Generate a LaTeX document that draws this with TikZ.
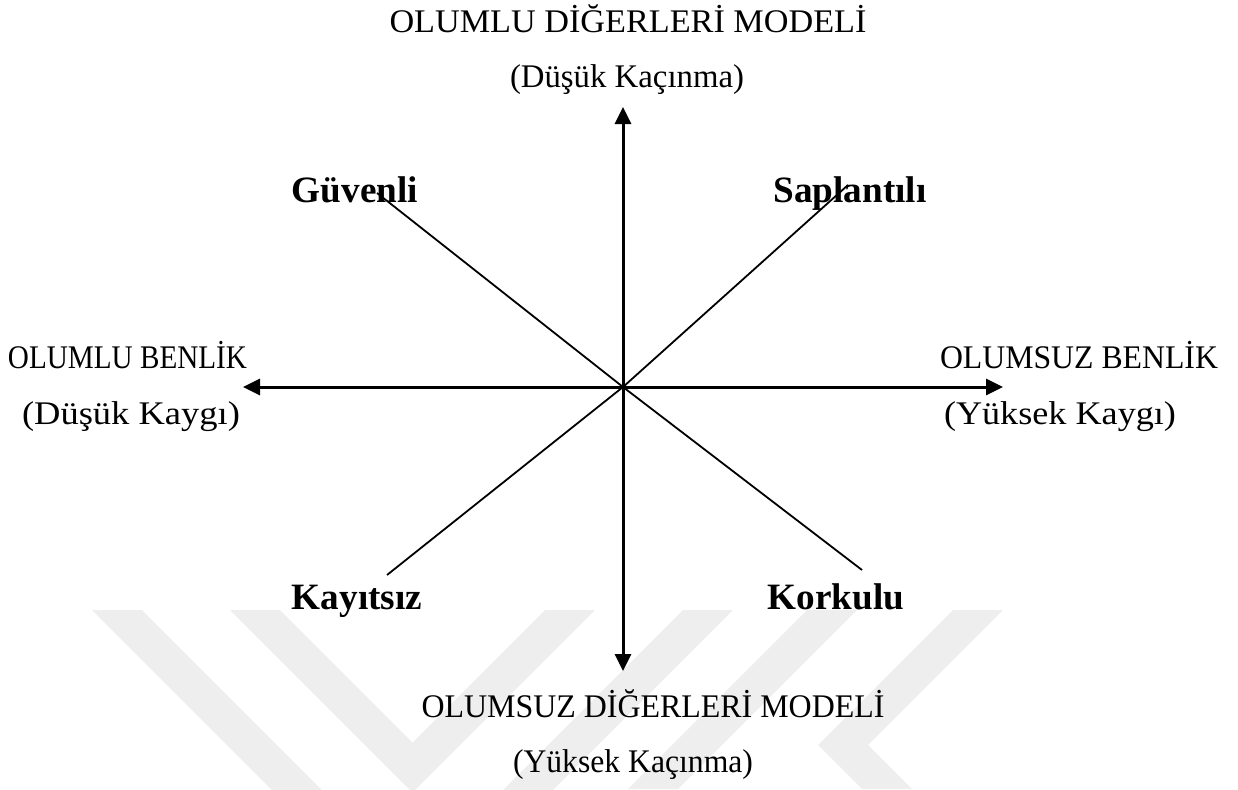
\documentclass[tikz,border=0pt]{standalone}
\usepackage{fontspec}
\usepackage{graphicx}
\setmainfont{Liberation Serif}
\usetikzlibrary{positioning,arrows.meta,backgrounds}
\definecolor{watermarkgray}{RGB}{238,238,238}
\newcommand{\fitlabel}[2]{\resizebox{#1}{\height}{#2}}
\tikzset{
    axis label/.style={font=\fontsize{33}{40}\selectfont, text=black, inner sep=0pt, anchor=base},
    style label/.style={font=\fontsize{37.2}{44}\selectfont\bfseries, text=black, inner sep=0pt, anchor=base},
    axis arrow/.style={line width=3pt, -{Triangle[length=17pt,width=16pt]}},
    style line/.style={line width=1.8pt},
}

\begin{document}
\begin{tikzpicture}[x=1pt,y=-1pt]

\useasboundingbox (0,0) rectangle (1238,789);

%Faint watermark bands behind the figure
\begin{scope}
\clip (0,0) rectangle (1238,789);
\fill[watermarkgray] (92,610) -- (412.5,930.5) -- (733,610) -- (683,610) -- (412.5,880.5) -- (142,610) -- cycle;
\fill[watermarkgray] (230,610) -- (412.5,792.5) -- (595,610) -- (545,610) -- (412.5,742.5) -- (280,610) -- cycle;
\fill[watermarkgray] (807,610) -- (857,610) -- (678,789) -- (628,789) -- cycle;
\fill[watermarkgray] (953,610) -- (1003,610) -- (868,745) -- (912,789) -- (862,789) -- (818,745) -- cycle;
\end{scope}

%Centre and arrow ends
\coordinate (center) at (623,387);
\coordinate (top end) at (623,107);
\coordinate (bottom end) at (623,671);
\coordinate (left end) at (243,387);
\coordinate (right end) at (1003,387);

%Diagonal ends
\coordinate (secure end) at (377,193);
\coordinate (preoccupied end) at (848,185);
\coordinate (dismissing end) at (387,575);
\coordinate (fearful end) at (862,570);

\node[axis label] (positive others) at (628,33) {\fitlabel{477pt}{OLUMLU DİĞERLERİ MODELİ}};
\node[axis label] (low avoidance) at (627,88) {\fitlabel{234pt}{(Düşük Kaçınma)}};
\node[axis label] (positive self) at (127.5,368) {\fitlabel{239pt}{OLUMLU BENLİK}};
\node[axis label] (low anxiety) at (131,424) {\fitlabel{218pt}{(Düşük Kaygı)}};
\node[axis label] (negative self) at (1079,368) {\fitlabel{278pt}{OLUMSUZ BENLİK}};
\node[axis label] (high anxiety) at (1060,424) {\fitlabel{232pt}{(Yüksek Kaygı)}};
\node[axis label] (negative others) at (653,717) {\fitlabel{463pt}{OLUMSUZ DİĞERLERİ MODELİ}};
\node[axis label] (high avoidance) at (633,772) {\fitlabel{240pt}{(Yüksek Kaçınma)}};

\node[style label] (secure) at (355,202) {Güvenli};
\node[style label] (preoccupied) at (850,202) {Saplantılı};
\node[style label] (dismissing) at (357,609) {Kayıtsız};
\node[style label] (fearful) at (836,609) {Korkulu};

\draw[style line] (center) -- (secure end);
\draw[style line] (center) -- (preoccupied end);
\draw[style line] (center) -- (dismissing end);
\draw[style line] (center) -- (fearful end);

\draw[axis arrow] (center) -- (top end);
\draw[axis arrow] (center) -- (bottom end);
\draw[axis arrow] (center) -- (left end);
\draw[axis arrow] (center) -- (right end);

\end{tikzpicture}
\end{document}
